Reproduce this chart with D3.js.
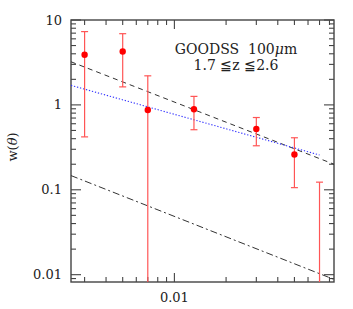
<!DOCTYPE html>
<html>
<head>
<meta charset="utf-8">
<script src="https://cdn.jsdelivr.net/npm/d3@7"></script>
<style>
  body { margin: 0; background: #fff; }
  text { font-family: "DejaVu Serif", serif; fill: #222; }
</style>
</head>
<body>
<svg width="353" height="309"></svg>
<script>
// measured points: angular scale (deg), w(theta), upper and lower error ends
const theta = [0.003, 0.005, 0.007, 0.013, 0.03, 0.05, 0.07];
const wVal  = [3.9, 4.26, 0.87, 0.89, 0.52, 0.26, 0.005];
const wHi   = [7.3, 6.9, 2.2, 1.26, 0.71, 0.41, 0.123];
const wLo   = [0.42, 1.63, 0.001, 0.51, 0.33, 0.106, 0.001];

// model lines (end points)
const dashTheta = [0.0025, 0.085], dashW = [3.22, 0.20];
const dashDotTheta = [0.0025, 0.085], dashDotW = [0.147, 0.0088];
const dotTheta = [0.0025, 0.07], dotW = [1.70, 0.257];

const yTickLabels = [10, 1, 0.1, 0.01];
const xTickLabels = [0.01];

const svg = d3.select("svg");
const margin = {top: 20, right: 19, bottom: 27, left: 71};
const W = 353 - margin.left - margin.right;
const H = 309 - margin.top - margin.bottom;

const x = d3.scaleLog().domain([0.0025, 0.085]).range([0, W]);
const y = d3.scaleLog().domain([0.0082, 10]).range([H, 0]);

const g = svg.append("g").attr("transform", `translate(${margin.left},${margin.top})`);

g.append("clipPath").attr("id", "clip")
  .append("rect").attr("width", W).attr("height", H);

// tick positions
const xTicks = x.ticks();
const yTicks = y.ticks();
const isMajor = v => Math.abs(Math.log10(v) - Math.round(Math.log10(v))) < 1e-6;

const axisColor = "#444";
const ticks = g.append("g").attr("stroke", axisColor).attr("stroke-width", 1.1);
xTicks.forEach(v => {
  const len = isMajor(v) ? 9 : 5;
  ticks.append("line").attr("x1", x(v)).attr("x2", x(v)).attr("y1", H).attr("y2", H - len);
  ticks.append("line").attr("x1", x(v)).attr("x2", x(v)).attr("y1", 0).attr("y2", len);
});
yTicks.forEach(v => {
  const len = isMajor(v) ? 10 : 5;
  ticks.append("line").attr("y1", y(v)).attr("y2", y(v)).attr("x1", 0).attr("x2", len);
  ticks.append("line").attr("y1", y(v)).attr("y2", y(v)).attr("x1", W).attr("x2", W - len);
});

g.append("rect").attr("width", W).attr("height", H)
  .attr("fill", "none").attr("stroke", axisColor).attr("stroke-width", 1.4);

// tick labels
g.selectAll(".ylab").data(yTickLabels).enter().append("text")
  .attr("x", -9).attr("y", d => y(d)).attr("dy", "0.35em")
  .attr("text-anchor", "end").attr("font-size", 13)
  .text(d => d);
g.selectAll(".xlab").data(xTickLabels).enter().append("text")
  .attr("x", d => x(d)).attr("y", H + 20)
  .attr("text-anchor", "middle").attr("font-size", 13)
  .text(d => d);

// axis title
svg.append("text")
  .attr("transform", "translate(17,147) rotate(-90)")
  .attr("text-anchor", "middle").attr("font-size", 13)
  .html('w(<tspan font-style="italic">θ</tspan>)');

// plot content
const plot = g.append("g").attr("clip-path", "url(#clip)");
const line = d3.line().x(d => x(d[0])).y(d => y(d[1]));

plot.append("path").datum(d3.zip(dashTheta, dashW)).attr("d", line)
  .attr("fill", "none").attr("stroke", "#333").attr("stroke-width", 1)
  .attr("stroke-dasharray", "5,4");
plot.append("path").datum(d3.zip(dashDotTheta, dashDotW)).attr("d", line)
  .attr("fill", "none").attr("stroke", "#333").attr("stroke-width", 1)
  .attr("stroke-dasharray", "7,3,2,3");
plot.append("path").datum(d3.zip(dotTheta, dotW)).attr("d", line)
  .attr("fill", "none").attr("stroke", "#33f").attr("stroke-width", 1.1)
  .attr("stroke-dasharray", "1.3,1.8");

const pts = theta.map((t, i) => ({t, w: wVal[i], hi: wHi[i], lo: wLo[i]}));
const errColor = "#f55";
const eb = plot.selectAll(".eb").data(pts).enter().append("g")
  .attr("stroke", errColor).attr("stroke-width", 1.2);
eb.append("line")
  .attr("x1", d => x(d.t)).attr("x2", d => x(d.t))
  .attr("y1", d => y(d.hi)).attr("y2", d => y(d.lo));
eb.append("line")
  .attr("x1", d => x(d.t) - 3.5).attr("x2", d => x(d.t) + 3.5)
  .attr("y1", d => y(d.hi)).attr("y2", d => y(d.hi));
eb.append("line")
  .attr("x1", d => x(d.t) - 3.5).attr("x2", d => x(d.t) + 3.5)
  .attr("y1", d => y(d.lo)).attr("y2", d => y(d.lo));

plot.selectAll(".pt").data(pts).enter().append("circle")
  .attr("cx", d => x(d.t)).attr("cy", d => y(d.w)).attr("r", 3.2)
  .attr("fill", "#f00");

// label
g.append("text").attr("x", 165).attr("y", 34).attr("text-anchor", "middle")
  .attr("font-size", 14).attr("xml:space", "preserve")
  .html('GOODSS  100<tspan font-style="italic">μ</tspan>m');
g.append("text").attr("x", 165).attr("y", 50).attr("text-anchor", "middle")
  .attr("font-size", 14).attr("xml:space", "preserve")
  .text("1.7 ≦z ≦2.6");
</script>
</body>
</html>
